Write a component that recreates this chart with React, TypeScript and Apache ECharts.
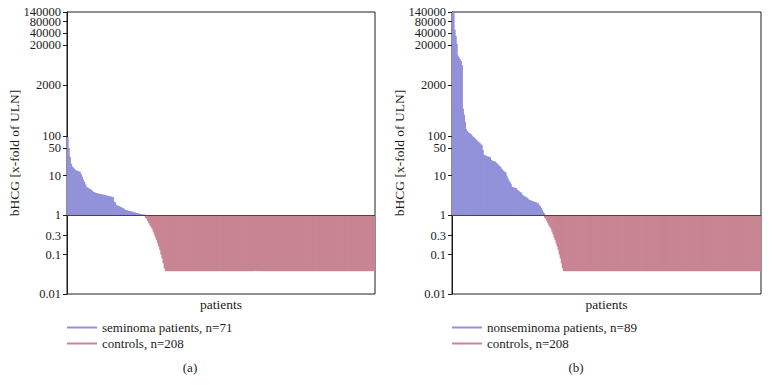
import React, { useEffect, useRef } from 'react';
import * as echarts from 'echarts';

// bHCG (x-fold of ULN), sorted descending
const seminoma = [
  95, 50, 30, 20, 17, 16, 15, 13.8, 13.5, 13, 12.8, 12.5, 11, 9.5, 8, 7, 6, 5.2, 5, 4.8,
  4.6, 4.4, 4.2, 3.9, 3.8, 3.7, 3.6, 3.55, 3.5, 3.45, 3.4, 3.35, 3.3, 3.25, 3.2, 3.15, 3.1, 3.05, 3.0, 2.95,
  2.9, 2.85, 2.2, 2.1, 1.8, 1.75, 1.7, 1.65, 1.6, 1.55, 1.5, 1.45, 1.35, 1.33, 1.31, 1.29, 1.27, 1.25, 1.23, 1.21,
  1.18, 1.16, 1.14, 1.12, 1.1, 1.08, 1.06, 1.05, 1.04, 1.03, 1.02,
];

const nonseminoma = [
  140000, 130000, 50000, 35000, 22000, 11000, 10000, 9000, 8000, 6300, 500, 350, 230, 150, 135, 125, 120, 115, 110, 100,
  95, 90, 85, 80, 75, 70, 68, 62, 60, 45, 34, 33, 32, 31, 30, 30, 29, 25, 24, 23.5,
  23, 22.5, 21, 20, 18.5, 17.5, 16.5, 15, 14, 13, 12.5, 12, 10, 8.5, 7.5, 6.8, 6.2, 5.2, 5.1, 5.0,
  4.9, 4.8, 4.4, 4.2, 4.0, 3.8, 3.7, 3.3, 3.1, 3.0, 2.9, 2.8, 2.7, 2.5, 2.4, 2.35, 2.3, 2.25, 2.2, 2.15,
  2.1, 2.05, 2.0, 1.8, 1.7, 1.5, 1.35, 1.2, 1.1,
];

const controls = [
  0.85, 0.8, 0.7, 0.62, 0.55, 0.5, 0.45, 0.38, 0.32, 0.27, 0.23, 0.19, 0.16, 0.13, 0.1, 0.08, 0.06, 0.045,
  0.038, 0.038, 0.038, 0.038, 0.038, 0.038, 0.038, 0.038, 0.038, 0.038,
  0.038, 0.038, 0.038, 0.038, 0.038, 0.038, 0.038, 0.038, 0.038, 0.038,
  0.038, 0.038, 0.038, 0.038, 0.038, 0.038, 0.038, 0.038, 0.038, 0.038,
  0.038, 0.038, 0.038, 0.038, 0.038, 0.038, 0.038, 0.038, 0.038, 0.038,
  0.038, 0.038, 0.038, 0.038, 0.038, 0.038, 0.038, 0.038, 0.038, 0.038,
  0.038, 0.038, 0.038, 0.038, 0.038, 0.038, 0.038, 0.038, 0.038, 0.038,
  0.038, 0.038, 0.038, 0.038, 0.038, 0.038, 0.038, 0.038, 0.038, 0.038,
  0.038, 0.038, 0.038, 0.038, 0.038, 0.038, 0.038, 0.038, 0.038, 0.038,
  0.038, 0.038, 0.038, 0.038, 0.038, 0.038, 0.038, 0.038, 0.038, 0.038,
  0.038, 0.038, 0.038, 0.038, 0.038, 0.038, 0.038, 0.038, 0.038, 0.038,
  0.038, 0.038, 0.038, 0.038, 0.038, 0.038, 0.038, 0.038, 0.038, 0.038,
  0.038, 0.038, 0.038, 0.038, 0.038, 0.038, 0.038, 0.038, 0.038, 0.038,
  0.038, 0.038, 0.038, 0.038, 0.038, 0.038, 0.038, 0.038, 0.038, 0.038,
  0.038, 0.038, 0.038, 0.038, 0.038, 0.038, 0.038, 0.038, 0.038, 0.038,
  0.038, 0.038, 0.038, 0.038, 0.038, 0.038, 0.038, 0.038, 0.038, 0.038,
  0.038, 0.038, 0.038, 0.038, 0.038, 0.038, 0.038, 0.038, 0.038, 0.038,
  0.038, 0.038, 0.038, 0.038, 0.038, 0.038, 0.038, 0.038, 0.038, 0.038,
  0.038, 0.038, 0.038, 0.038, 0.038, 0.038, 0.038, 0.038, 0.038, 0.038,
  0.038, 0.038, 0.038, 0.038, 0.038, 0.038, 0.038, 0.038, 0.038, 0.038,
];

const yTicks = [0.01, 0.1, 0.3, 1, 10, 50, 100, 2000, 20000, 40000, 80000, 140000];
const yTickLabels = ['0.01', '0.1', '0.3', '1', '10', '50', '100', '2000', '20000', '40000', '80000', '140000'];
const yMin = 0.01;
const yMax = 140000;

const seminomaName = 'seminoma patients, n=71';
const nonseminomaName = 'nonseminoma patients, n=89';
const controlsName = 'controls, n=208';
const panelCaptions = ['(a)', '(b)'];

const FONT = 'Liberation Serif';
const BLUE = '#9292da';
const RED = '#c98593';
const INK = '#1c1c1c';

const tickLogs = yTicks.map((t) => Math.log10(t));
// alternate tick labels between two stacked label layers so that neighbours never hide each other
const labelsA = tickLogs.filter((_, i) => i % 2 === 0);
const labelsB = tickLogs.filter((_, i) => i % 2 === 1);
const fmt = (v: number) => {
  const i = tickLogs.findIndex((t) => Math.abs(t - v) < 1e-6);
  return i >= 0 ? yTickLabels[i] : '';
};

const labelStyle = {
  formatter: fmt,
  showMinLabel: true,
  showMaxLabel: true,
  fontFamily: FONT,
  fontSize: 12.5,
  color: INK,
  margin: 6,
};

function buildPanel(idx: number, patients: number[], patientName: string) {
  const n = patients.length + controls.length;
  const cats = Array.from({ length: n }, (_, i) => 'P' + (i + 1));
  const pData: (number | string)[] = [];
  const cData: (number | string)[] = [];
  patients.forEach((v) => {
    pData.push(Math.log10(v));
    cData.push('-');
  });
  controls.forEach((v) => {
    pData.push('-');
    cData.push(Math.log10(v));
  });
  const xAxis = {
    type: 'category',
    gridIndex: idx,
    data: cats,
    axisLine: { show: false },
    axisTick: { show: false },
    axisLabel: { show: false },
    splitLine: { show: false },
    name: 'patients',
    nameLocation: 'middle',
    nameGap: 3,
    nameTextStyle: { fontFamily: FONT, fontSize: 13.5, color: INK, verticalAlign: 'top' },
  };
  const yMain = {
    type: 'value',
    gridIndex: idx,
    min: Math.log10(yMin),
    max: Math.log10(yMax),
    axisLine: { show: true, lineStyle: { color: INK, width: 1 } },
    axisTick: { show: true, customValues: tickLogs, length: 4, lineStyle: { color: INK } },
    axisLabel: { ...labelStyle, customValues: labelsA },
    splitLine: { show: false },
    name: 'bHCG [x-fold of ULN]',
    nameLocation: 'middle',
    nameGap: 46,
    nameRotate: 90,
    nameTextStyle: { fontFamily: FONT, fontSize: 13.5, color: INK },
  };
  const yAlt = {
    type: 'value',
    gridIndex: idx,
    position: 'left',
    offset: 0,
    min: Math.log10(yMin),
    max: Math.log10(yMax),
    axisLine: { show: false },
    axisTick: { show: false },
    axisLabel: { ...labelStyle, customValues: labelsB },
    splitLine: { show: false },
  };
  const series = [
    {
      type: 'bar',
      name: patientName,
      xAxisIndex: idx,
      yAxisIndex: idx,
      data: pData,
      barGap: '-100%',
      barWidth: '200%',
      itemStyle: { color: BLUE },
      markLine: {
        silent: true,
        symbol: 'none',
        label: { show: false },
        lineStyle: { color: '#444455', width: 1, type: 'solid' },
        data: [{ yAxis: 0 }],
      },
    },
    {
      type: 'bar',
      name: controlsName,
      xAxisIndex: idx,
      yAxisIndex: idx,
      data: cData,
      barGap: '-100%',
      barWidth: '200%',
      itemStyle: { color: RED },
    },
  ];
  return { xAxis, yMain, yAlt, series };
}

export default function App() {
  const ref = useRef<HTMLDivElement>(null);
  useEffect(() => {
    if (!ref.current) return;
    const chart = echarts.init(ref.current, null, { renderer: 'svg' });
    const a = buildPanel(0, seminoma, seminomaName);
    const b = buildPanel(1, nonseminoma, nonseminomaName);
    const legendBase = {
      orient: 'vertical',
      top: 316,
      padding: 5,
      itemWidth: 30,
      itemHeight: 2,
      icon: 'rect',
      itemGap: 3,
      selectedMode: false,
      textStyle: { fontFamily: FONT, fontSize: 13, color: INK },
    };
    chart.setOption({
      animation: false,
      backgroundColor: '#ffffff',
      grid: [
        { left: 67, top: 12, width: 308, height: 282, show: true, borderColor: INK, borderWidth: 1, backgroundColor: 'transparent' },
        { left: 452, top: 12, width: 309, height: 282, show: true, borderColor: INK, borderWidth: 1, backgroundColor: 'transparent' },
      ],
      xAxis: [a.xAxis, b.xAxis],
      yAxis: [a.yMain, b.yMain, a.yAlt, b.yAlt],
      series: [...a.series, ...b.series],
      legend: [
        { ...legendBase, left: 62, data: [seminomaName, controlsName] },
        { ...legendBase, left: 447, data: [nonseminomaName, controlsName] },
      ],
      graphic: [
        { type: 'text', x: 190, y: 367, style: { text: panelCaptions[0], fontFamily: FONT, fontSize: 13, fill: INK, align: 'center', verticalAlign: 'middle' } },
        { type: 'text', x: 576, y: 367, style: { text: panelCaptions[1], fontFamily: FONT, fontSize: 13, fill: INK, align: 'center', verticalAlign: 'middle' } },
      ],
    });
    return () => chart.dispose();
  }, []);
  return (
    <div
      ref={ref}
      style={{ position: 'absolute', left: 0, top: 0, width: 770, height: 392, background: '#fff' }}
    />
  );
}
